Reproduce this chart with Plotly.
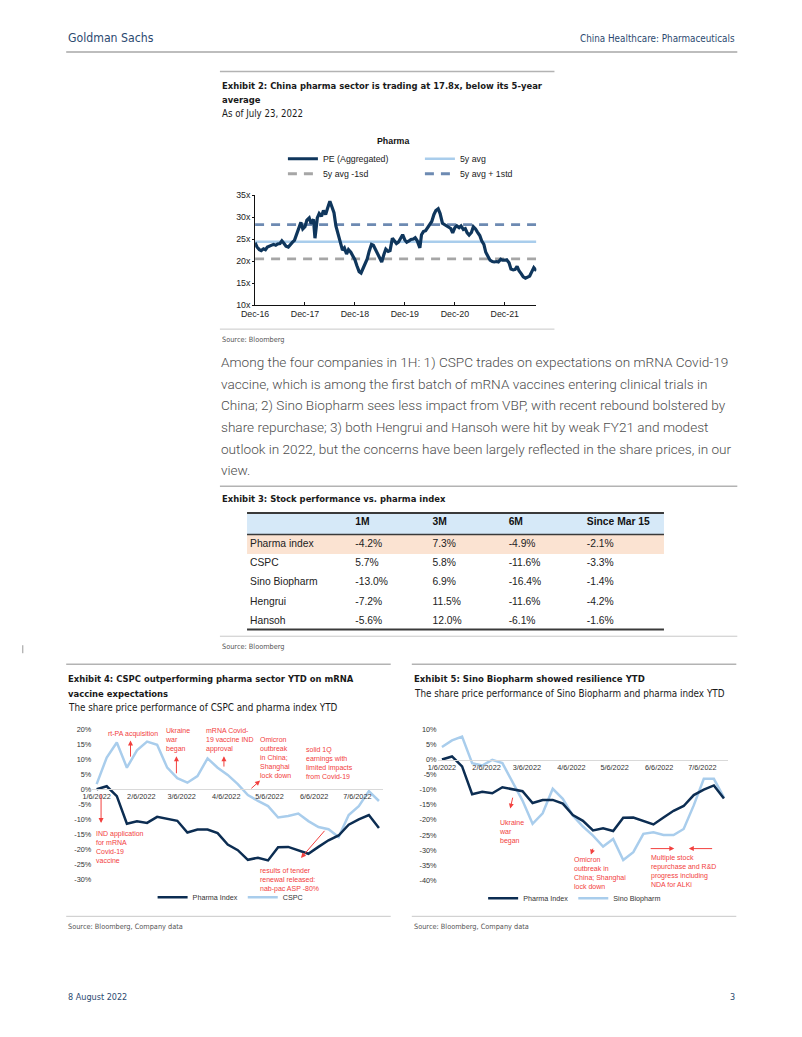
import plotly.graph_objects as go
import pandas as pd

W, H = 802, 1037
# calibration of the page photograph (screen = A * figure_px + B)
AX, BX, AY, BY = 0.978, 23.0, 0.99, 12.0


def px(x):
    return ((x - BX) / AX) / W


def py(y):
    return 1 - ((y - BY) / AY) / H


# ---------------- DATA ----------------
# Exhibit 2: PE (aggregated), China pharma
pe_dates = [
    "2016-12-01", "2016-12-15", "2017-01-01", "2017-01-15", "2017-02-01", "2017-02-15",
    "2017-03-01", "2017-03-15", "2017-04-01", "2017-04-15", "2017-05-01", "2017-05-15",
    "2017-06-01", "2017-06-15", "2017-07-01", "2017-07-15", "2017-08-01", "2017-08-15",
    "2017-09-01", "2017-09-15", "2017-10-01", "2017-10-15", "2017-11-01", "2017-11-15",
    "2017-12-01", "2017-12-15", "2018-01-01", "2018-01-15", "2018-02-01", "2018-02-12",
    "2018-02-22", "2018-03-01", "2018-03-15", "2018-04-01", "2018-04-15", "2018-05-01",
    "2018-05-15", "2018-06-01", "2018-06-15", "2018-07-01", "2018-07-15", "2018-08-01",
    "2018-08-15", "2018-09-01", "2018-09-15", "2018-10-01", "2018-10-15", "2018-11-01",
    "2018-11-15", "2018-12-01", "2018-12-15", "2019-01-01", "2019-01-15", "2019-02-01",
    "2019-02-15", "2019-03-01", "2019-03-15", "2019-04-01", "2019-04-15", "2019-05-01",
    "2019-05-15", "2019-06-01", "2019-06-15", "2019-07-01", "2019-07-15", "2019-08-01",
    "2019-08-15", "2019-09-01", "2019-09-15", "2019-10-01", "2019-10-15", "2019-11-01",
    "2019-11-15", "2019-12-01", "2019-12-15", "2020-01-01", "2020-01-15", "2020-02-01",
    "2020-02-15", "2020-03-01", "2020-03-20", "2020-04-01", "2020-04-15", "2020-05-01",
    "2020-05-15", "2020-06-01", "2020-06-15", "2020-07-01", "2020-07-15", "2020-08-01",
    "2020-08-15", "2020-09-01", "2020-09-15", "2020-10-01", "2020-10-15", "2020-11-01",
    "2020-11-15", "2020-12-01", "2020-12-15", "2021-01-01", "2021-01-15", "2021-02-01",
    "2021-02-15", "2021-03-01", "2021-03-15", "2021-04-01", "2021-04-15", "2021-05-01",
    "2021-05-15", "2021-06-01", "2021-06-15", "2021-07-01", "2021-07-15", "2021-08-01",
    "2021-08-15", "2021-09-01", "2021-09-15", "2021-10-01", "2021-10-15", "2021-11-01",
    "2021-11-15", "2021-12-01", "2021-12-15", "2022-01-01", "2022-01-15", "2022-02-01",
    "2022-02-15", "2022-03-01", "2022-03-15", "2022-04-01", "2022-04-15", "2022-05-01",
    "2022-05-15", "2022-06-01", "2022-06-15", "2022-07-01", "2022-07-20",
]
pe_values = [
    24.2, 23.2, 22.6, 22.4, 22.8, 22.6,
    23.2, 23.4, 23.5, 23.8, 23.6, 23.9,
    24.0, 24.6, 24.0, 23.4, 23.2, 23.8,
    24.3, 24.7, 26.0, 27.6, 28.8, 27.3,
    27.8, 29.3, 29.8, 28.5, 29.5, 25.2,
    27.5, 29.8, 30.8, 30.2, 31.5, 30.6,
    32.0, 33.6, 32.4, 31.0, 28.0, 26.0,
    24.8, 22.5, 23.0, 21.6, 22.6, 22.0,
    21.2, 20.3, 19.0, 17.6, 17.3, 18.6,
    19.2, 20.5, 22.2, 23.8, 23.6, 22.6,
    21.6, 20.8, 19.8, 21.5, 22.7, 22.2,
    22.4, 25.2, 24.6, 24.0, 24.3, 25.4,
    26.0, 24.8, 24.3, 24.6, 24.9, 25.0,
    25.3, 24.6, 23.0, 26.0, 26.7, 26.9,
    27.5, 28.2, 29.0, 30.6, 31.5, 31.9,
    30.8, 28.6, 28.3, 28.0, 27.8, 27.4,
    26.4, 27.6, 28.0, 27.6, 28.0, 27.2,
    27.4, 26.4, 25.9, 26.5, 27.8, 27.3,
    26.6, 25.8, 24.6, 23.8, 22.0, 20.8,
    20.2, 19.9, 19.8, 19.9, 19.8, 20.4,
    20.2, 20.2, 20.3, 19.6, 18.2, 18.0,
    18.1, 18.8, 17.8, 17.1, 16.4, 16.1,
    16.4, 16.6, 17.5, 18.5, 17.8,
]
pe_avg_5y = 24.4
pe_avg_plus_1sd = 28.3
pe_avg_minus_1sd = 20.5
pe_x_range = ["2016-12-01", "2022-07-20"]
pe_tick_dates = ["2016-12-01", "2017-12-01", "2018-12-01", "2019-12-01", "2020-12-01", "2021-12-01"]
pe_tick_labels = ["Dec-16", "Dec-17", "Dec-18", "Dec-19", "Dec-20", "Dec-21"]
pe_y_ticks = [10, 15, 20, 25, 30, 35]
pe_y_labels = ["10x", "15x", "20x", "25x", "30x", "35x"]

# Exhibits 4 and 5: YTD share price performance (%), weekly
ytd_dates = list(pd.date_range("2022-01-06", periods=29, freq="7D").strftime("%Y-%m-%d"))
pharma_index = [0.0, 1.0, -2.3, -11.5, -10.7, -11.2, -9.2, -9.8, -10.5, -14.4,
                -13.4, -13.4, -14.6, -18.4, -20.3, -23.5, -22.8, -23.7, -19.3, -19.2,
                -20.4, -21.5, -19.2, -17.0, -15.4, -11.8, -10.0, -8.6, -12.9]
cspc = [1.7, 10.6, 15.6, 7.2, 13.0, 15.9, 14.8, 7.2, 3.7, 2.2,
        4.4, 10.3, 7.2, 4.8, 1.7, -1.9, -3.9, -5.6, -9.4, -8.9,
        -8.1, -10.6, -12.6, -13.3, -15.9, -8.6, -5.6, -0.6, -3.9]
sino_biopharm = [4.1, 6.3, 7.6, -1.2, -2.0, -0.1, -1.2, -7.5, -13.6, -21.3,
                 -17.8, -9.7, -13.0, -18.6, -22.2, -25.2, -28.8, -26.3, -33.3, -30.7,
                 -24.6, -24.1, -25.0, -25.0, -23.0, -15.2, -6.4, -6.4, -12.6]
ytd_tick_dates = ["2022-01-06", "2022-02-06", "2022-03-06", "2022-04-06",
                  "2022-05-06", "2022-06-06", "2022-07-06"]
ytd_tick_labels = ["1/6/2022", "2/6/2022", "3/6/2022", "4/6/2022",
                   "5/6/2022", "6/6/2022", "7/6/2022"]
ex4_y_ticks = [20, 15, 10, 5, 0, -5, -10, -15, -20, -25, -30]
ex4_y_labels = ["20%", "15%", "10%", "5%", "0%", "-5%", "-10%", "-15%", "-20%", "-25%", "-30%"]
ex5_y_ticks = [10, 5, 0, -5, -10, -15, -20, -25, -30, -35, -40]
ex5_y_labels = ["10%", "5%", "0%", "-5%", "-10%", "-15%", "-20%", "-25%", "-30%", "-35%", "-40%"]

# Exhibit 3: table
table_header = ["", "1M", "3M", "6M", "Since\u00a0Mar\u00a015"]
table_names = ["Pharma index", "CSPC", "Sino Biopharm", "Hengrui", "Hansoh"]
perf_1m = ["-4.2%", "5.7%", "-13.0%", "-7.2%", "-5.6%"]
perf_3m = ["7.3%", "5.8%", "6.9%", "11.5%", "12.0%"]
perf_6m = ["-4.9%", "-11.6%", "-16.4%", "-11.6%", "-6.1%"]
perf_since_mar15 = ["-2.1%", "-3.3%", "-1.4%", "-4.2%", "-1.6%"]

paragraph_lines = [
    "Among the four companies in 1H: 1) CSPC trades on expectations on mRNA Covid-19",
    "vaccine, which is among the first batch of mRNA vaccines entering clinical trials in",
    "China; 2) Sino Biopharm sees less impact from VBP, with recent rebound bolstered by",
    "share repurchase; 3) both Hengrui and Hansoh were hit by weak FY21 and modest",
    "outlook in 2022, but the concerns have been largely reflected in the share prices, in our",
    "view.",
]

# ---------------- STYLE ----------------
ARIAL = "Liberation Sans, Arial, sans-serif"
COND = "DejaVu Sans Condensed, Liberation Sans Narrow, sans-serif"
BODY = "Roboto, Lato, sans-serif"
NAVY = "#0f365c"
LIGHT = "#a9cdec"
RED = "#f2403e"
GS_BLUE = "#2c4a70"
CLEAR = "rgba(0,0,0,0)"

fig = go.Figure()

# ----- Exhibit 2 traces -----
fig.add_trace(go.Scatter(x=pe_x_range, y=[pe_avg_5y] * 2, mode="lines", name="5y avg",
                         line=dict(color=LIGHT, width=2.5), legend="legend", legendrank=2,
                         xaxis="x", yaxis="y"))
fig.add_trace(go.Scatter(x=pe_x_range, y=[pe_avg_minus_1sd] * 2, mode="lines", name="5y avg -1sd",
                         line=dict(color="#a6a6a6", width=2.8, dash="9px,7px"),
                         legend="legend2", legendrank=1, xaxis="x", yaxis="y"))
fig.add_trace(go.Scatter(x=pe_x_range, y=[pe_avg_plus_1sd] * 2, mode="lines", name="5y avg + 1std",
                         line=dict(color="#6d8ab2", width=2.8, dash="9px,7px"),
                         legend="legend2", legendrank=2, xaxis="x", yaxis="y"))
fig.add_trace(go.Scatter(x=pe_dates, y=pe_values, mode="lines", name="PE (Aggregated)",
                         line=dict(color=NAVY, width=3.2), legend="legend", legendrank=1,
                         xaxis="x", yaxis="y"))

# ----- Exhibit 4 traces -----
fig.add_trace(go.Scatter(x=ytd_dates, y=cspc, mode="lines", name="CSPC",
                         line=dict(color=LIGHT, width=2.5), legend="legend3", legendrank=2,
                         xaxis="x2", yaxis="y2"))
fig.add_trace(go.Scatter(x=ytd_dates, y=pharma_index, mode="lines", name="Pharma Index",
                         line=dict(color="#0c2d52", width=2.5), legend="legend3", legendrank=1,
                         xaxis="x2", yaxis="y2"))

# ----- Exhibit 5 traces -----
fig.add_trace(go.Scatter(x=ytd_dates, y=sino_biopharm, mode="lines", name="Sino Biopharm",
                         line=dict(color=LIGHT, width=2.5), legend="legend4", legendrank=2,
                         xaxis="x3", yaxis="y3"))
fig.add_trace(go.Scatter(x=ytd_dates, y=pharma_index, mode="lines", name="Pharma Index",
                         line=dict(color="#0c2d52", width=2.5), legend="legend4", legendrank=1,
                         xaxis="x3", yaxis="y3"))

# ----- Exhibit 3 table (fills drawn as bands underneath) -----
fig.add_trace(go.Table(
    domain=dict(x=[px(242), px(662)], y=[py(641), py(507.7)]),
    columnwidth=[105, 77, 76, 78, 84],
    header=dict(values=table_header,
                fill_color=CLEAR, align="left", height=22,
                line=dict(color=CLEAR, width=0),
                font=dict(family=ARIAL, size=10.3, color="#111", weight="bold")),
    cells=dict(values=[table_names, perf_1m, perf_3m, perf_6m, perf_since_mar15],
               fill_color=CLEAR, align="left", height=19.3,
               line=dict(color=CLEAR, width=0),
               font=dict(family=ARIAL, size=10.3, color="#222")),
))

# ---------------- AXES ----------------
axis_font = dict(family=ARIAL, size=8.8, color="#222")
small_font = dict(family=ARIAL, size=7.3, color="#333")
ex4_range = ["2022-01-03", "2022-07-24"]

fig.update_layout(
    xaxis=dict(domain=[px(255), px(535)], anchor="y", type="date", range=pe_x_range,
               tickvals=pe_tick_dates, ticktext=pe_tick_labels, showline=True,
               linecolor="#111", linewidth=1, ticks="inside", ticklen=3, tickcolor="#111",
               showgrid=False, zeroline=False, tickfont=axis_font),
    yaxis=dict(domain=[py(304), py(194)], anchor="x", range=[10, 35], tickvals=pe_y_ticks,
               ticktext=pe_y_labels, showline=True, linecolor="#111", linewidth=1, ticks="outside",
               ticklen=2, tickcolor="#111", showgrid=False, zeroline=False, tickfont=axis_font),
    xaxis2=dict(domain=[px(93), px(382.6)], anchor="free", position=py(788), type="date",
                range=ex4_range, tickvals=ytd_tick_dates, ticktext=ytd_tick_labels,
                showline=True, linecolor="#d9d9d9", linewidth=1, ticks="", showgrid=False,
                zeroline=False, tickfont=small_font),
    yaxis2=dict(domain=[py(878), py(728)], anchor="x2", range=[-30, 20], tickvals=ex4_y_ticks,
                ticktext=ex4_y_labels, showline=False, showgrid=False, zeroline=False,
                ticks="", tickfont=small_font),
    xaxis3=dict(domain=[px(436.7), px(726)], anchor="free", position=py(759), type="date",
                range=ex4_range, tickvals=ytd_tick_dates, ticktext=ytd_tick_labels,
                showline=True, linecolor="#d9d9d9", linewidth=1, ticks="", showgrid=False,
                zeroline=False, tickfont=small_font),
    yaxis3=dict(domain=[py(879), py(728)], anchor="x3", range=[-40, 10], tickvals=ex5_y_ticks,
                ticktext=ex5_y_labels, showline=False, showgrid=False, zeroline=False,
                ticks="", tickfont=small_font),
)

leg_common = dict(orientation="h", xanchor="left", yanchor="middle", bgcolor=CLEAR,
                  borderwidth=0, traceorder="normal")
fig.update_layout(
    legend=dict(x=px(282.7), y=py(157.7), entrywidth=92, font=dict(family=ARIAL, size=8.8, color="#222"), **leg_common),
    legend2=dict(x=px(282.7), y=py(172.7), entrywidth=92, font=dict(family=ARIAL, size=8.8, color="#222"), **leg_common),
    legend3=dict(x=px(153), y=py(896), font=dict(family=ARIAL, size=7.2, color="#333"), **leg_common),
    legend4=dict(x=px(482), y=py(897), font=dict(family=ARIAL, size=7.2, color="#333"), **leg_common),
)

# ---------------- TEXT ----------------
ann = []


def text(t, x, y, size, color="#1a1a1a", family=COND, xanchor="left", yanchor="middle", weight=None):
    f = dict(family=family, size=size, color=color)
    if weight:
        f["weight"] = weight
    ann.append(dict(text=t, x=px(x), y=py(y), xref="paper", yref="paper", showarrow=False,
                    xanchor=xanchor, yanchor=yanchor, align="left", font=f))


def arrow(hx, hy, tx, ty):
    ann.append(dict(text="", x=px(hx), y=py(hy), xref="paper", yref="paper", showarrow=True,
                    ax=(tx - hx) / AX, ay=(ty - hy) / AY, axref="pixel", ayref="pixel",
                    arrowhead=2, arrowsize=1, arrowwidth=1, arrowcolor=RED,
                    standoff=0, startstandoff=0))


# page header / footer
text("Goldman Sachs", 67, 37, 12.2, GS_BLUE)
text("China Healthcare: Pharmaceuticals", 735, 37, 9.8, GS_BLUE, xanchor="right")
text("8 August 2022", 67, 996, 9, GS_BLUE)
text("3", 735, 996, 9, GS_BLUE, xanchor="right")

# Exhibit 2
text("<b>Exhibit 2: China pharma sector is trading at 17.8x, below its 5-year</b>", 220, 84, 9.4)
text("<b>average</b>", 220, 98.5, 9.4)
text("As of July 23, 2022", 220, 112.5, 9.6)
text("<b>Pharma</b>", 392, 139.5, 8.8, "#111", ARIAL, xanchor="center")
text("Source: Bloomberg", 220, 338, 7.3, "#555")

for i, line in enumerate(paragraph_lines):
    text(line, 219, 361 + 21.6 * i, 13.6, "#4d4d4d", BODY, weight=300)

# Exhibit 3
text("<b>Exhibit 3: Stock performance vs. pharma index</b>", 220, 497.5, 9.4)
text("Source: Bloomberg", 220, 645.5, 7.3, "#555")

# Exhibit 4
text("<b>Exhibit 4: CSPC outperforming pharma sector YTD on mRNA</b>", 67, 677, 9.4)
text("<b>vaccine expectations</b>", 67, 692, 9.4)
text("The share price performance of CSPC and pharma index YTD", 67, 706.5, 9.8)
text("Source: Bloomberg, Company data", 67, 925, 7.3, "#555")

# Exhibit 5
text("<b>Exhibit 5: Sino Biopharm showed resilience YTD</b>", 411, 677, 9.5)
text("The share price performance of Sino Biopharm and pharma index YTD", 411, 692, 9.8)
text("Source: Bloomberg, Company data", 411, 925, 7.3, "#555")

# Exhibit 4 event labels
ev = dict(color=RED, family=ARIAL)
text("rt-PA acquisition", 107, 732.3, 7, **ev)
text("Ukraine<br>war<br>began", 163, 738.3, 7, **ev)
text("mRNA Covid-<br>19 vaccine IND<br>approval", 204, 738.3, 7, **ev)
text("Omicron<br>outbreak<br>in China;<br>Shanghai<br>lock down", 258.3, 756.3, 7, **ev)
text("solid 1Q<br>earnings with<br>limited impacts<br>from Covid-19", 304, 762, 7, **ev)
text("IND application<br>for mRNA<br>Covid-19<br>vaccine", 95, 845.3, 7, **ev)
text("results of tender<br>renewal released:<br>nab-pac ASP -80%", 258.3, 878.2, 7, **ev)
arrow(131, 739.3, 131, 756.7)
arrow(176.7, 755, 176.7, 773.3)
arrow(224, 755, 224, 766.7)
arrow(260, 779.3, 250, 788.3)
arrow(101.7, 821.7, 101.7, 791.7)
arrow(300.7, 856.7, 325, 828.3)

# Exhibit 5 event labels
text("Ukraine<br>war<br>began", 495.7, 831, 7, **ev)
text("Omicron<br>outbreak in<br>China; Shanghai<br>lock down", 570, 871.3, 7, **ev)
text("Multiple stock<br>repurchase and R&D<br>progress including<br>NDA for ALKi", 646.7, 869.7, 7, **ev)
arrow(509, 807.3, 511.7, 795)
arrow(589.3, 853.3, 591.7, 846)
arrow(672.3, 847.3, 647.7, 847.3)
arrow(686.7, 847.3, 711, 847.3)

# ---------------- RULES / BANDS ----------------
shapes = []


def hline(x0, x1, y, color="#b3b3b3", width=1.5):
    shapes.append(dict(type="line", xref="paper", yref="paper", x0=px(x0), x1=px(x1),
                       y0=py(y), y1=py(y), line=dict(color=color, width=width)))


def band(x0, x1, y0, y1, color):
    shapes.append(dict(type="rect", xref="paper", yref="paper", x0=px(x0), x1=px(x1),
                       y0=py(y1), y1=py(y0), line=dict(width=0), fillcolor=color, layer="below"))


band(247, 662, 511.7, 533.3, "#d6e9f8")
band(247, 662, 533.3, 552.8, "#fbe3d2")
hline(67, 735, 51, "#bdbdbd", 2)
hline(220, 553, 70.5, "#b3b3b3", 1.5)
hline(220, 553, 328, "#c8c8c8", 1)
hline(220, 735, 485, "#b3b3b3", 1.5)
hline(247, 662, 511.7, "#3a3a3a", 2)
hline(247, 662, 533.3, "#3a3a3a", 1.5)
hline(247, 662, 628.3, "#3a3a3a", 2)
hline(220, 735, 635, "#c8c8c8", 1)
hline(67, 390, 663, "#b3b3b3", 1.5)
hline(411, 734, 663, "#b3b3b3", 1.5)
hline(67, 390, 915, "#c8c8c8", 1)
hline(411, 734, 915, "#c8c8c8", 1)
shapes.append(dict(type="line", xref="paper", yref="paper", x0=0.001, x1=0.001,
                   y0=py(644), y1=py(652), line=dict(color="#999", width=1)))

fig.update_layout(
    width=W, height=H, margin=dict(l=0, r=0, t=0, b=0),
    paper_bgcolor="white", plot_bgcolor="white",
    annotations=ann, shapes=shapes, showlegend=True,
    font=dict(family=ARIAL),
)

fig.write_html("out.html")
